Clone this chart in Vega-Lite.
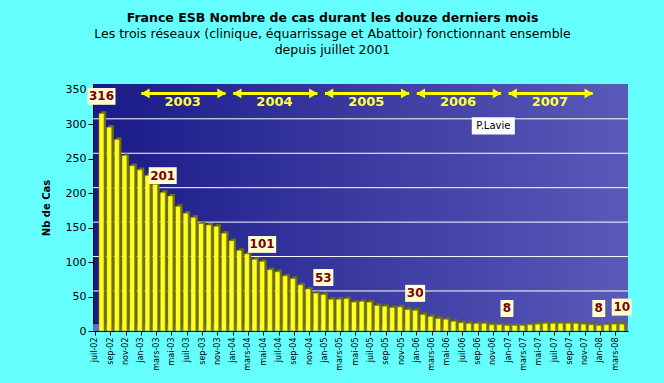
{
  "$schema": "https://vega.github.io/schema/vega-lite/v6.json",
  "width": 535,
  "height": 247,
  "autosize": {"type": "none"},
  "padding": {"left": 93, "top": 84, "right": 36, "bottom": 52},
  "background": "#66ffff",
  "config": {
    "font": "DejaVu Sans",
    "axisY": {"tickCount": 8, "labelOverlap": false},
    "view": {
      "stroke": null,
      "fill": {"gradient": "linear", "x1": 0, "y1": 0, "x2": 1, "y2": 0, "stops": [{"offset": 0, "color": "#1a1a88"}, {"offset": 1, "color": "#5a5ab9"}]}
    }
  },
  "title": {
    "text": "France ESB Nombre de cas durant les douze derniers mois",
    "subtitle": ["Les trois réseaux (clinique, équarrissage et Abattoir) fonctionnant ensemble", "depuis juillet 2001"],
    "anchor": "middle",
    "frame": "group",
    "dx": -28,
    "font": "DejaVu Sans",
    "fontSize": 12.5,
    "fontWeight": "bold",
    "color": "black",
    "subtitleFont": "DejaVu Sans",
    "subtitleFontSize": 12.5,
    "subtitleColor": "black",
    "subtitlePadding": 4,
    "subtitleLineHeight": 16,
    "offset": 27
  },
  "datasets": {
    "m": [
      {"m": "juil-02", "v": 316, "lbl": true},
      {"m": "août-02", "v": 296},
      {"m": "sep-02", "v": 278},
      {"m": "oct-02", "v": 255},
      {"m": "nov-02", "v": 240},
      {"m": "déc-02", "v": 234},
      {"m": "jan-03", "v": 226},
      {"m": "fév-03", "v": 213},
      {"m": "mars-03", "v": 201, "lbl": true},
      {"m": "avr-03", "v": 196},
      {"m": "mai-03", "v": 181},
      {"m": "juin-03", "v": 171},
      {"m": "juil-03", "v": 165},
      {"m": "août-03", "v": 156},
      {"m": "sep-03", "v": 154},
      {"m": "oct-03", "v": 152},
      {"m": "nov-03", "v": 142},
      {"m": "déc-03", "v": 131},
      {"m": "jan-04", "v": 117},
      {"m": "fév-04", "v": 112},
      {"m": "mars-04", "v": 104},
      {"m": "avr-04", "v": 101, "lbl": true},
      {"m": "mai-04", "v": 89},
      {"m": "juin-04", "v": 86},
      {"m": "juil-04", "v": 80},
      {"m": "août-04", "v": 76},
      {"m": "sep-04", "v": 67},
      {"m": "oct-04", "v": 61},
      {"m": "nov-04", "v": 55},
      {"m": "déc-04", "v": 53, "lbl": true},
      {"m": "jan-05", "v": 46},
      {"m": "fév-05", "v": 46},
      {"m": "mars-05", "v": 47},
      {"m": "avr-05", "v": 42},
      {"m": "mai-05", "v": 43},
      {"m": "juin-05", "v": 42},
      {"m": "juil-05", "v": 37},
      {"m": "août-05", "v": 36},
      {"m": "sep-05", "v": 34},
      {"m": "oct-05", "v": 35},
      {"m": "nov-05", "v": 31},
      {"m": "déc-05", "v": 30, "lbl": true},
      {"m": "jan-06", "v": 24},
      {"m": "fév-06", "v": 21},
      {"m": "mars-06", "v": 18},
      {"m": "avr-06", "v": 17},
      {"m": "mai-06", "v": 14},
      {"m": "juin-06", "v": 12},
      {"m": "juil-06", "v": 11},
      {"m": "août-06", "v": 11},
      {"m": "sep-06", "v": 11},
      {"m": "oct-06", "v": 9},
      {"m": "nov-06", "v": 9},
      {"m": "déc-06", "v": 8, "lbl": true},
      {"m": "jan-07", "v": 8},
      {"m": "fév-07", "v": 8},
      {"m": "mars-07", "v": 9},
      {"m": "avr-07", "v": 10},
      {"m": "mai-07", "v": 11},
      {"m": "juin-07", "v": 11},
      {"m": "juil-07", "v": 11},
      {"m": "août-07", "v": 11},
      {"m": "sep-07", "v": 11},
      {"m": "oct-07", "v": 10},
      {"m": "nov-07", "v": 9},
      {"m": "déc-07", "v": 8, "lbl": true},
      {"m": "jan-08", "v": 9},
      {"m": "fév-08", "v": 10},
      {"m": "mars-08", "v": 10, "lbl": true}
    ],
    "years": [
      {"year": "2003", "start": "jan-03", "end": "déc-03", "mid": "juin-03"},
      {"year": "2004", "start": "jan-04", "end": "déc-04", "mid": "juin-04"},
      {"year": "2005", "start": "jan-05", "end": "déc-05", "mid": "juin-05"},
      {"year": "2006", "start": "jan-06", "end": "déc-06", "mid": "juin-06"},
      {"year": "2007", "start": "jan-07", "end": "déc-07", "mid": "juin-07"}
    ],
    "grid": [{"g": 50}, {"g": 100}, {"g": 150}, {"g": 200}, {"g": 250}, {"g": 300}],
    "note": [{"x": "nov-06", "y": 298, "t": "P.Lavie"}]
  },
  "layer": [
    {
      "data": {"name": "m"},
      "mark": {"type": "bar", "color": "#6e6e08", "xOffset": 8, "yOffset": -2},
      "encoding": {
        "x": {
          "field": "m", "type": "nominal", "sort": null,
          "scale": {
            "domain": ["juil-02","août-02","sep-02","oct-02","nov-02","déc-02","jan-03","fév-03","mars-03","avr-03","mai-03","juin-03","juil-03","août-03","sep-03","oct-03","nov-03","déc-03","jan-04","fév-04","mars-04","avr-04","mai-04","juin-04","juil-04","août-04","sep-04","oct-04","nov-04","déc-04","jan-05","fév-05","mars-05","avr-05","mai-05","juin-05","juil-05","août-05","sep-05","oct-05","nov-05","déc-05","jan-06","fév-06","mars-06","avr-06","mai-06","juin-06","juil-06","août-06","sep-06","oct-06","nov-06","déc-06","jan-07","fév-07","mars-07","avr-07","mai-07","juin-07","juil-07","août-07","sep-07","oct-07","nov-07","déc-07","jan-08","fév-08","mars-08"],
            "paddingInner": 0.35, "paddingOuter": 0.64, "align": 0
          },
          "axis": {
            "values": ["juil-02","sep-02","nov-02","jan-03","mars-03","mai-03","juil-03","sep-03","nov-03","jan-04","mars-04","mai-04","juil-04","sep-04","nov-04","jan-05","mars-05","mai-05","juil-05","sep-05","nov-05","jan-06","mars-06","mai-06","juil-06","sep-06","nov-06","jan-07","mars-07","mai-07","juil-07","sep-07","nov-07","jan-08","mars-08"],
            "title": null, "labelAngle": 270, "labelFontSize": 8, "labelFont": "DejaVu Sans", "labelColor": "black",
            "tickSize": 4, "tickColor": "black", "domainColor": "black", "labelPadding": 2, "grid": false, "labelOverlap": false
          }
        },
        "y": {
          "field": "v", "type": "quantitative",
          "scale": {"domain": [0, 358.7], "nice": false},
          "axis": {
            "values": [0, 50, 100, 150, 200, 250, 300, 350],
            "tickCount": 8,
            "labelOverlap": false,
            "title": "Nb de Cas", "titleFont": "DejaVu Sans", "titleFontSize": 10, "titleFontWeight": "bold", "titleColor": "black", "titlePadding": 14,
            "labelFontSize": 11, "labelFont": "DejaVu Sans", "labelColor": "black",
            "tickSize": 5, "tickColor": "black", "domainColor": "black", "grid": false
          }
        }
      }
    },
    {
      "data": {"name": "grid"},
      "mark": {"type": "rule", "color": "white", "strokeWidth": 1, "yOffset": -5.6},
      "encoding": {"y": {"field": "g", "type": "quantitative"}}
    },
    {
      "data": {"name": "grid"},
      "mark": {"type": "rect", "color": "#5d6ddc"},
      "encoding": {"y": {"datum": 0}, "y2": {"datum": 9}}
    },
    {
      "data": {"name": "m"},
      "mark": {"type": "bar", "color": "#6e6e08", "xOffset": 8, "yOffset": -2},
      "encoding": {
        "x": {"field": "m", "type": "nominal", "sort": null},
        "y": {"field": "v", "type": "quantitative"}
      }
    },
    {
      "data": {"name": "m"},
      "mark": {"type": "bar", "color": "#ffff22", "stroke": "#8a8a00", "strokeWidth": 0.6, "xOffset": 6},
      "encoding": {
        "x": {"field": "m", "type": "nominal", "sort": null},
        "y": {"field": "v", "type": "quantitative"}
      }
    },
    {
      "data": {"name": "years"},
      "mark": {"type": "rule", "color": "#ffff00", "strokeWidth": 3},
      "encoding": {
        "x": {"field": "start", "type": "nominal", "sort": null},
        "x2": {"field": "end"},
        "y": {"datum": 345}
      }
    },
    {
      "data": {"name": "years"},
      "mark": {"type": "point", "shape": "triangle-left", "size": 95, "filled": true, "color": "#ffff00", "opacity": 1, "xOffset": 4},
      "encoding": {
        "x": {"field": "start", "type": "nominal", "sort": null},
        "y": {"datum": 345}
      }
    },
    {
      "data": {"name": "years"},
      "mark": {"type": "point", "shape": "triangle-right", "size": 95, "filled": true, "color": "#ffff00", "opacity": 1, "xOffset": -4},
      "encoding": {
        "x": {"field": "end", "type": "nominal", "sort": null},
        "y": {"datum": 345}
      }
    },
    {
      "data": {"name": "years"},
      "mark": {"type": "text", "color": "#ffff44", "font": "DejaVu Sans", "fontSize": 13, "fontWeight": "bold", "baseline": "middle", "xOffset": 3},
      "encoding": {
        "x": {"field": "mid", "type": "nominal", "sort": null},
        "y": {"datum": 333},
        "text": {"field": "year"}
      }
    },
    {
      "data": {"name": "note"},
      "mark": {"type": "point", "shape": "M-1,-0.4H1V0.4H-1Z", "size": 1849, "filled": true, "color": "white", "opacity": 1},
      "encoding": {
        "x": {"field": "x", "type": "nominal", "sort": null},
        "y": {"field": "y", "type": "quantitative"}
      }
    },
    {
      "data": {"name": "note"},
      "mark": {"type": "text", "color": "black", "font": "DejaVu Sans", "fontSize": 10, "baseline": "middle"},
      "encoding": {
        "x": {"field": "x", "type": "nominal", "sort": null},
        "y": {"field": "y", "type": "quantitative"},
        "text": {"field": "t"}
      }
    },
    {
      "data": {"name": "m"},
      "transform": [{"filter": "datum.lbl && datum.v >= 100"}],
      "mark": {"type": "point", "shape": "M-1,-0.6H1V0.6H-1Z", "size": 784, "filled": true, "color": "#ffffd2", "opacity": 1, "xOffset": 6, "yOffset": -17},
      "encoding": {
        "x": {"field": "m", "type": "nominal", "sort": null},
        "y": {"field": "v", "type": "quantitative"}
      }
    },
    {
      "data": {"name": "m"},
      "transform": [{"filter": "datum.lbl && datum.v >= 10 && datum.v < 100"}],
      "mark": {"type": "point", "shape": "M-1,-0.85H1V0.85H-1Z", "size": 400, "filled": true, "color": "#ffffd2", "opacity": 1, "xOffset": 6, "yOffset": -17},
      "encoding": {
        "x": {"field": "m", "type": "nominal", "sort": null},
        "y": {"field": "v", "type": "quantitative"}
      }
    },
    {
      "data": {"name": "m"},
      "transform": [{"filter": "datum.lbl && datum.v < 10"}],
      "mark": {"type": "point", "shape": "M-0.76,-1H0.76V1H-0.76Z", "size": 289, "filled": true, "color": "#ffffd2", "opacity": 1, "xOffset": 6, "yOffset": -17},
      "encoding": {
        "x": {"field": "m", "type": "nominal", "sort": null},
        "y": {"field": "v", "type": "quantitative"}
      }
    },
    {
      "data": {"name": "m"},
      "transform": [{"filter": "datum.lbl"}],
      "mark": {"type": "text", "color": "#7a0000", "font": "DejaVu Sans", "fontSize": 12, "fontWeight": "bold", "baseline": "middle", "xOffset": 6, "yOffset": -17},
      "encoding": {
        "x": {"field": "m", "type": "nominal", "sort": null},
        "y": {"field": "v", "type": "quantitative"},
        "text": {"field": "v"}
      }
    }
  ]
}
